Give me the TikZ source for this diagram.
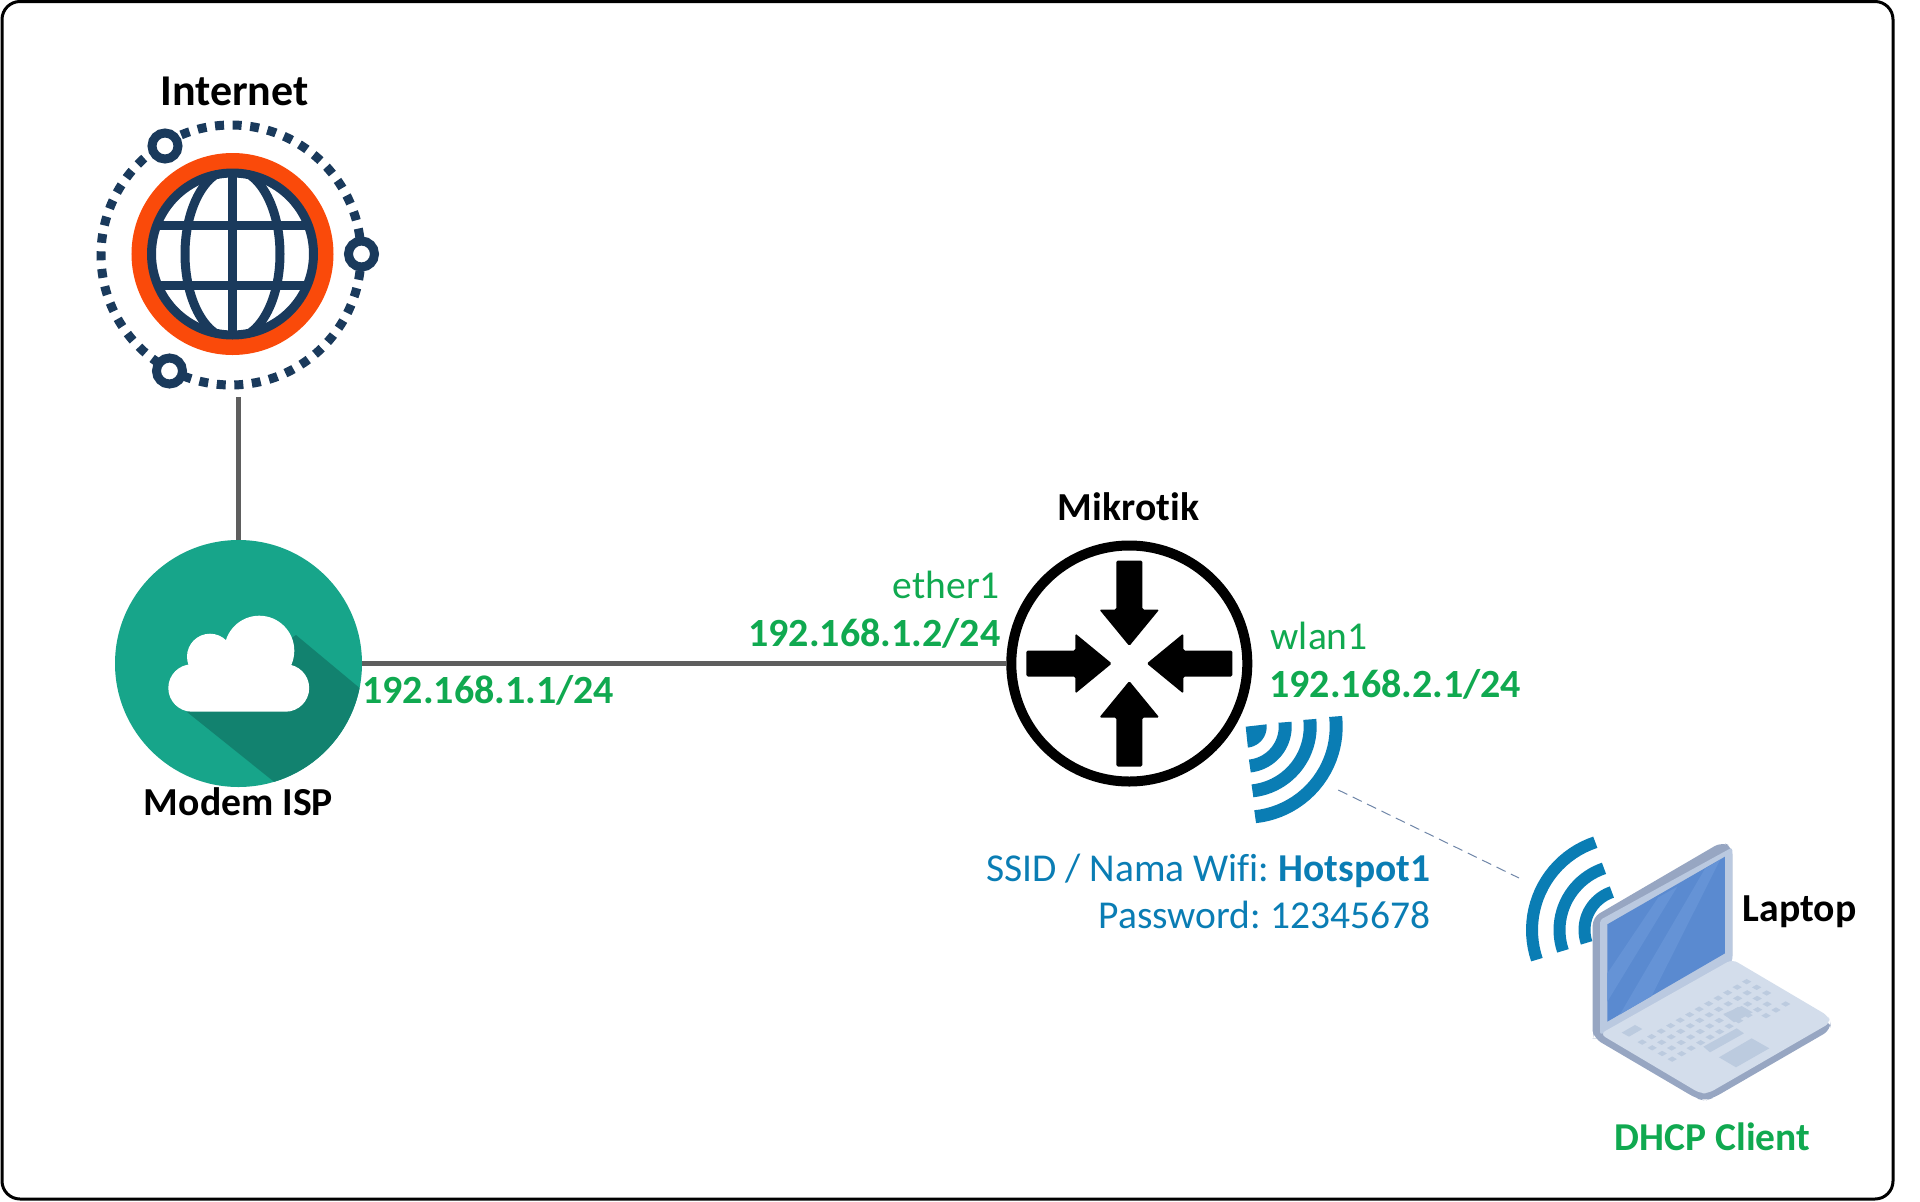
\documentclass[tikz,border=0pt]{standalone}
\usepackage{fontspec}
\setmainfont{Carlito}[Ligatures=NoCommon]
\frenchspacing
\usepackage{tikz}
\definecolor{inetdark}{HTML}{1A3A5C}
\definecolor{inetorange}{HTML}{FA4A0A}
\definecolor{modemteal}{HTML}{17A58A}
\definecolor{modemshade}{HTML}{12826F}
\definecolor{linegray}{HTML}{5E5E5E}
\definecolor{ipgreen}{HTML}{10A950}
\definecolor{wifiblue}{HTML}{0A7DB4}
\definecolor{dashblue}{HTML}{6F86A8}
\definecolor{lidedge}{HTML}{97A6C2}
\definecolor{lidface}{HTML}{BAC9E0}
\definecolor{screenblue}{HTML}{5A8AD0}
\definecolor{screenlight}{HTML}{6593D6}
\definecolor{basetop}{HTML}{D3DDEB}
\definecolor{keygray}{HTML}{BCCBDF}
\tikzset{
    lbl/.style={inner sep=0pt, font=\fontsize{39.5}{40}\selectfont},
    namelbl/.style={lbl, text=black, font=\fontsize{39.7}{40}\selectfont\bfseries},
    ipaddr/.style={lbl, text=ipgreen, font=\fontsize{40}{40}\selectfont\bfseries},
    iface/.style={lbl, text=ipgreen},
    wifilbl/.style={lbl, text=wifiblue},
    wire/.style={line width=5pt, linegray},
    hub/.style={shape=circle, draw=inetdark, fill=white, line width=9pt, minimum size=26pt, inner sep=0pt}}

\begin{document}
\begin{tikzpicture}[x=1pt, y=-1pt]
    \useasboundingbox (0,0) rectangle (1920,1202);
    \draw[line width=3pt, rounded corners=18pt] (2,1.5) rectangle (1893,1199);

    % internet globe
    \draw[inetdark, line width=9pt, dash pattern=on 9pt off 8.6pt] (231,255) circle (130pt);
    \node[hub] (hubA) at (165,146) {};
    \node[hub] (hubB) at (361.5,254) {};
    \node[hub] (hubC) at (169.5,371) {};
    \node[shape=circle, draw=inetorange, fill=white, line width=16pt, minimum size=186pt, inner sep=0pt] (inet) at (232.5,254) {};
    \begin{scope}
        \clip (232.5,254) circle (81pt);
        \draw[inetdark, line width=9pt] (232.5,254) ellipse [x radius=47.5pt, y radius=85pt];
        \draw[inetdark, line width=9pt] (232.5,160) -- (232.5,350);
        \draw[inetdark, line width=9pt] (140,225) -- (330,225);
        \draw[inetdark, line width=9pt] (140,285) -- (330,285);
    \end{scope}
    \draw[inetdark, line width=9pt] (232.5,254) circle (81pt);
    \coordinate (inetdrop) at (238.5,397);
    \node[namelbl, anchor=base, font=\fontsize{44}{44}\selectfont\bfseries] (inetname) at (234.5,105) {Internet};

    % modem
    \node[shape=circle, fill=modemteal, minimum size=247pt, inner sep=0pt] (modem) at (238.5,663.5) {};
    \begin{scope}
        \clip (238.5,663.5) circle (123.5pt);
        \fill[modemshade] (186.7,711.7) -- (296,635) -- (362,690) -- (380,801) -- (298,801) -- cycle;
    \end{scope}
    \fill[white] (192,688) circle (23.7pt) (285.5,688) circle (23.7pt)
        (210,656.7) circle (23pt) (259.3,650.7) circle (35pt)
        (192,664.5) rectangle (285.5,711.7) (215,640) rectangle (280,690);
    \node[namelbl, anchor=base] (modemname) at (238.5,815) {Modem ISP};
    \node[ipaddr, anchor=base west] (modemip) at (362,703.5) {192.168.1.1/24};

    % router
    \node[shape=circle, draw=black, fill=white, line width=10pt, minimum size=236pt, inner sep=0pt] (router) at (1129.3,663.5) {};
    \foreach \ang in {0,90,180,270}
        \fill[black, rotate around={\ang:(router.center)}, rounded corners=1.5pt, shift={(1129.3,663.5)}]
            (-13,-103) -- (13,-103) -- (13,-54) -- (30,-54) -- (0,-17.5) -- (-30,-54) -- (-13,-54) -- cycle;
    \node[namelbl, anchor=base] (routername) at (1128.5,520) {Mikrotik};
    \node[iface, anchor=base east] (ether) at (1000,598.5) {ether1};
    \node[ipaddr, anchor=base east] (etherip) at (1000.5,646) {192.168.1.2/24};
    \node[iface, anchor=base west] (wlan) at (1270.5,649) {wlan1};
    \node[ipaddr, anchor=base west] (wlanip) at (1269,697) {192.168.2.1/24};

    % router wifi
    \begin{scope}[shift={(1245.7,726.7)}]
        \fill[wifiblue] (0,0) -- plot[domain=-6.5:84, samples=12] ({21*cos(\x)},{21*sin(\x)}) -- cycle;
        \foreach \rad in {39.5,64.5,90.5}
            \draw[wifiblue, line width=13pt] plot[domain=-6.5:84, samples=24] ({\rad*cos(\x)},{\rad*sin(\x)});
    \end{scope}
    \coordinate (wifirouter) at (1338.3,790);
    \node[wifilbl, anchor=base east] (ssid) at (1430.5,881) {SSID / Nama Wifi: \textbf{Hotspot1}};
    \node[wifilbl, anchor=base east] (pass) at (1430.5,928.5) {Password: 12345678};

    % laptop wifi
    \begin{scope}[shift={(1624.5,930)}]
        \foreach \rad in {40,65,92.5}
            \draw[wifiblue, line width=12pt] plot[domain=161.3:251.6, samples=24] ({\rad*cos(\x)},{\rad*sin(\x)});
    \end{scope}
    \coordinate (wifilaptop) at (1519,878);

    % laptop
    \begin{scope}[shift={(1520,830)}, x=0.3333pt, y=-0.3333pt]
        \fill[lidedge, rounded corners=8pt] (218,625) -- (218,262) -- (605,36) -- (637,50) -- (637,400) -- (240,625) -- cycle;
        \fill[lidface, rounded corners=3pt] (240,270) -- (637,52) -- (637,395) -- (240,615) -- cycle;
        \fill[screenblue] (262,283) -- (615,80) -- (615,370) -- (262,575) -- cycle;
        \fill[screenlight] (262,430) -- (415,202) -- (472,170) -- (262,515) -- cycle;
        \fill[screenlight] (300,553) -- (555,116) -- (600,90) -- (395,498) -- cycle;
        \fill[lidedge, rounded corners=8pt] (218,600) -- (222,625) -- (530,806) -- (555,812) -- (580,804) -- (932,600) -- (932,570) -- (550,770) -- cycle;
        \fill[basetop, rounded corners=6pt] (240,612) -- (637,388) -- (925,558) -- (932,578) -- (565,790) -- (540,790) -- cycle;
        \fill[keygray] (305,608) -- (345,585) -- (367,597) -- (327,620) -- cycle;
        \fill[keygray] (597,682) -- (695,625) -- (748,655) -- (648,712) -- cycle;
        \fill[keygray] (550,650) -- (650,595) -- (672,610) -- (570,667) -- cycle;
        \fill[keygray] (610,552) -- (665,528) -- (698,547) -- (642,577) -- cycle;
        \foreach \rownum/\first/\last in {0/0/11, 1/0/11, 2/0/11, 3/1/11} {
            \foreach \keynum in {\first,...,\last} {
                \fill[keygray, shift={({680+30*\rownum-28.5*\keynum},{455+17*\rownum+16.5*\keynum})}]
                    (-14,0) -- (0,-8) -- (14,0) -- (0,8) -- cycle;
            }
        }
        \foreach \keyx/\keyy in {738/557, 768/540, 797/522}
            \fill[keygray, shift={(\keyx,\keyy)}] (-14,0) -- (0,-8) -- (14,0) -- (0,8) -- cycle;
    \end{scope}
    \node[namelbl, anchor=base west] (laptopname) at (1742.5,921) {Laptop};
    \node[ipaddr, anchor=base, font=\fontsize{39.5}{40}\selectfont\bfseries] (dhcp) at (1712.5,1150) {DHCP Client};

    % connectors
    \draw[wire] (inetdrop) -- (modem.north);
    \draw[wire] (modem) -- (router);
    \draw[line width=1pt, dash pattern=on 10pt off 6pt, dashblue] (wifirouter) -- (wifilaptop);

\end{tikzpicture}
\end{document}
